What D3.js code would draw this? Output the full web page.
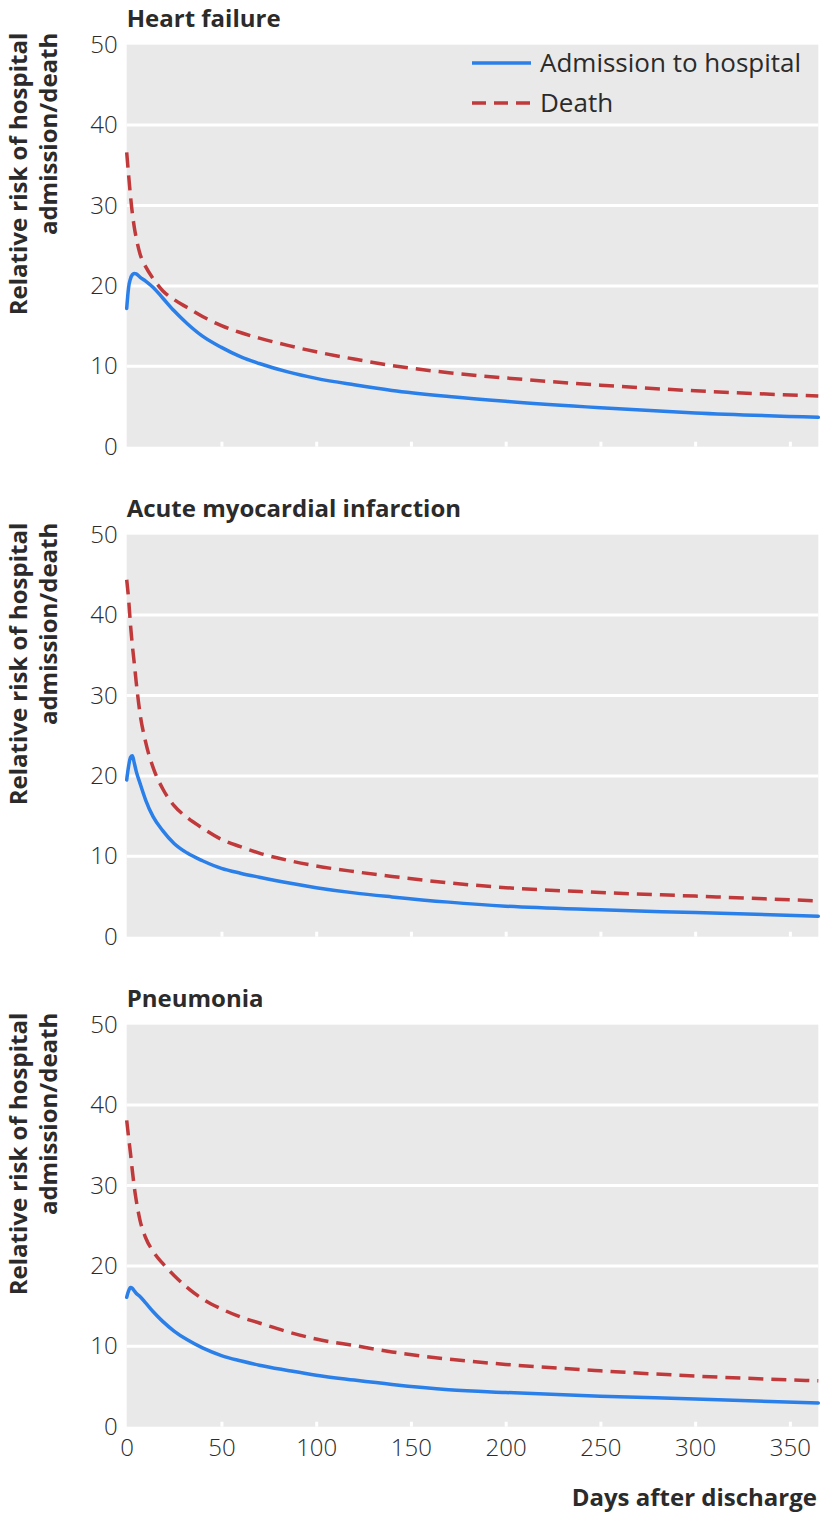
<!DOCTYPE html>
<html>
<head>
<meta charset="utf-8">
<script src="https://cdn.jsdelivr.net/npm/d3@7"></script>
<style>
  html, body { margin: 0; padding: 0; background: #fff; }
  svg { display: block; }
  text { font-family: "Open Sans", "Noto Sans", sans-serif; }
</style>
</head>
<body>
<svg id="chart" width="824" height="1516"></svg>
<script>
// ---- data ----
const days = [0, 1, 2, 3, 4, 5, 7, 10, 14, 19, 25, 32, 40, 50, 60, 70, 85, 100, 120, 140, 170, 200, 250, 300, 365];
const panelTitles = ["Heart failure", "Acute myocardial infarction", "Pneumonia"];
const seriesNames = ["Admission to hospital", "Death"];

const hfAdmission  = [17.2, 19.8, 20.9, 21.4, 21.55, 21.5, 21.1, 20.6, 19.8, 18.5, 16.9, 15.3, 13.75, 12.35, 11.2, 10.35, 9.3, 8.5, 7.7, 7.0, 6.25, 5.65, 4.85, 4.2, 3.65];
const hfDeath      = [36.6, 33.8, 31.2, 29.0, 27.3, 26.0, 24.0, 22.4, 20.9, 19.4, 18.3, 17.3, 16.2, 15.05, 14.2, 13.5, 12.6, 11.8, 10.9, 10.1, 9.2, 8.55, 7.65, 6.95, 6.3];
const amiAdmission = [19.5, 21.2, 22.3, 22.5, 21.6, 20.6, 19.1, 17.0, 14.9, 13.2, 11.6, 10.4, 9.45, 8.5, 7.9, 7.4, 6.7, 6.1, 5.45, 4.95, 4.3, 3.8, 3.35, 3.0, 2.55];
const amiDeath     = [44.4, 42.0, 38.8, 36.2, 34.0, 31.7, 27.8, 24.2, 21.0, 18.4, 16.3, 14.8, 13.5, 12.1, 11.2, 10.4, 9.5, 8.8, 8.1, 7.5, 6.7, 6.1, 5.5, 5.05, 4.45];
const pnAdmission  = [16.1, 16.9, 17.3, 17.2, 16.9, 16.6, 16.2, 15.4, 14.3, 13.1, 11.9, 10.8, 9.8, 8.85, 8.2, 7.65, 7.0, 6.4, 5.8, 5.25, 4.6, 4.25, 3.8, 3.45, 2.95];
const pnDeath      = [38.1, 36.0, 34.0, 31.8, 29.8, 28.2, 25.7, 23.5, 21.8, 20.3, 18.8, 17.3, 15.9, 14.65, 13.65, 12.9, 11.8, 10.9, 10.1, 9.3, 8.4, 7.75, 6.95, 6.3, 5.7];

const yTicks = [0, 10, 20, 30, 40, 50];
const xTicks = [0, 50, 100, 150, 200, 250, 300, 350];
const yLabelLines = ["Relative risk of hospital", "admission/death"];
const xLabel = "Days after discharge";

// ---- layout ----
const panels = [
  { title: panelTitles[0], adm: hfAdmission, death: hfDeath },
  { title: panelTitles[1], adm: amiAdmission, death: amiDeath },
  { title: panelTitles[2], adm: pnAdmission, death: pnDeath }
];
const left = 126.7, right = 818.3;
const firstBase = 446.7, panelGap = 490, plotH = 402;
const blue = "#2a7fe8", red = "#c0393b", bg = "#e9e9e9", textCol = "#2b2b2b";

const svg = d3.select("#chart");
const x = d3.scaleLinear().domain([0, 365]).range([left, right]);

panels.forEach((p, i) => {
  const base = firstBase + i * panelGap;
  const top = base - plotH;
  const y = d3.scaleLinear().domain([0, 50]).range([base, top]);
  const g = svg.append("g");

  g.append("rect").attr("x", left).attr("y", top)
    .attr("width", right - left).attr("height", base - top).attr("fill", bg);

  // gridlines
  g.selectAll(".grid").data(yTicks.filter(t => t > 0 && t < 50)).join("line")
    .attr("x1", left).attr("x2", right)
    .attr("y1", d => y(d)).attr("y2", d => y(d))
    .attr("stroke", "#fff").attr("stroke-width", 3);

  // x ticks (white marks inside bottom)
  const xAxis = d3.axisBottom(x).tickValues(xTicks.filter(t => t > 0))
    .tickSizeInner(-5).tickSizeOuter(0).tickFormat("");
  const xa = g.append("g").attr("transform", `translate(0,${base})`).call(xAxis);
  xa.select(".domain").remove();
  xa.selectAll("line").attr("stroke", "#fff").attr("stroke-width", 3);

  // y axis labels
  const yAxis = d3.axisLeft(y).tickValues(yTicks).tickSize(0).tickPadding(9);
  const ya = g.append("g").attr("transform", `translate(${left},0)`).call(yAxis);
  ya.select(".domain").remove();
  ya.selectAll("text").attr("font-family", "'Open Sans', sans-serif")
    .attr("font-size", 24).attr("font-weight", 300).attr("fill", textCol);

  // title
  g.append("text").attr("x", left).attr("y", top - 18)
    .attr("font-size", 24).attr("font-weight", 700).attr("fill", textCol)
    .text(p.title);

  // y label (rotated, two lines)
  yLabelLines.forEach((ln, k) => {
    g.append("text")
      .attr("transform", `translate(${27 + k * 30},${top - 12}) rotate(-90)`)
      .attr("text-anchor", "end")
      .attr("font-size", 24).attr("font-weight", 700).attr("fill", textCol)
      .text(ln);
  });

  const line = d3.line().x((d, j) => x(days[j])).y(d => y(d)).curve(d3.curveMonotoneX);

  g.append("path").datum(p.death).attr("d", line)
    .attr("fill", "none").attr("stroke", red).attr("stroke-width", 3.5)
    .attr("stroke-dasharray", "15,8");
  g.append("path").datum(p.adm).attr("d", line)
    .attr("fill", "none").attr("stroke", blue).attr("stroke-width", 3.5)
    .attr("stroke-linecap", "round");

  if (i === 0) {
    const lg = g.append("g");
    const items = [{ name: seriesNames[0], col: blue, dash: null, yy: 63 },
                   { name: seriesNames[1], col: red, dash: "14,8", yy: 103 }];
    items.forEach(it => {
      lg.append("line").attr("x1", 472).attr("x2", 531).attr("y1", it.yy).attr("y2", it.yy)
        .attr("stroke", it.col).attr("stroke-width", 3.5)
        .attr("stroke-dasharray", it.dash);
      lg.append("text").attr("x", 540).attr("y", it.yy).attr("dy", "0.35em")
        .attr("font-size", 26).attr("font-weight", 400).attr("fill", textCol)
        .text(it.name);
    });
  }

  if (i === panels.length - 1) {
    const xl = d3.axisBottom(x).tickValues(xTicks).tickSize(0).tickPadding(12);
    const xg = g.append("g").attr("transform", `translate(0,${base})`).call(xl);
    xg.select(".domain").remove();
    xg.selectAll("text").attr("font-family", "'Open Sans', sans-serif")
      .attr("font-size", 24).attr("font-weight", 300).attr("fill", textCol);
    g.append("text").attr("x", 817).attr("y", 1506).attr("text-anchor", "end")
      .attr("font-size", 24).attr("font-weight", 700).attr("fill", textCol)
      .text(xLabel);
  }
});
</script>
</body>
</html>
